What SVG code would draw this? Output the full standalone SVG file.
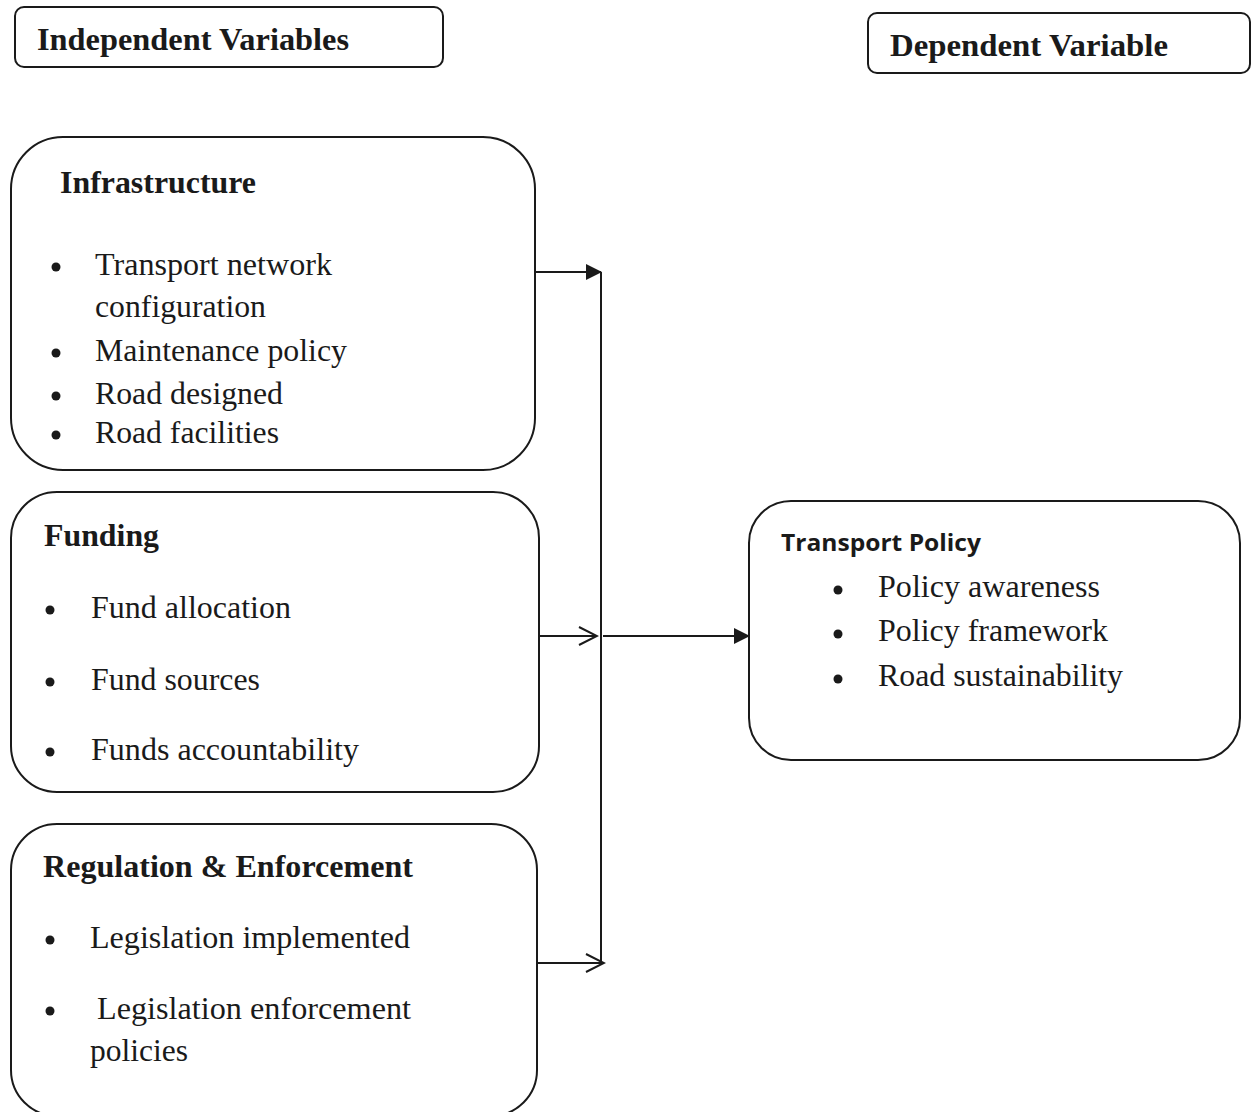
<svg xmlns="http://www.w3.org/2000/svg" width="1257" height="1112" viewBox="0 0 1257 1112">
<style>
.box{fill:#fff;stroke:#1a1a1a;stroke-width:2}
.h{font-family:"Liberation Serif",serif;font-weight:bold;font-size:31px;fill:#1a1a1a}
.t{font-family:"Liberation Serif",serif;font-size:31px;fill:#1a1a1a}
.s{font-family:"Open Sans","Liberation Sans",sans-serif;font-weight:bold;font-size:24px;fill:#1a1a1a}
.ln{stroke:#1a1a1a;stroke-width:2;fill:none}
.dot{fill:#1a1a1a}
</style>
<defs>
<marker id="fill" markerWidth="16" markerHeight="16" refX="15" refY="8" orient="auto" markerUnits="userSpaceOnUse"><path d="M0,0 L16,8 L0,16 Z" fill="#1a1a1a"/></marker>
<marker id="open" markerWidth="22" markerHeight="22" refX="20" refY="11" orient="auto" markerUnits="userSpaceOnUse"><path d="M2,2 L20,11 L2,20" fill="none" stroke="#1a1a1a" stroke-width="2"/></marker>
</defs>
<g id="iv"><rect class="box" x="15" y="7" width="428" height="60" rx="9"/><text class="h" x="37" y="50" textLength="312" lengthAdjust="spacingAndGlyphs">Independent Variables</text></g>
<g id="dv"><rect class="box" x="868" y="13" width="382" height="60" rx="9"/><text class="h" x="890" y="56" textLength="278" lengthAdjust="spacingAndGlyphs">Dependent Variable</text></g>
<g id="infra"><rect class="box" x="11" y="137" width="524" height="333" rx="52"/>
<text class="h" x="60" y="193" textLength="196" lengthAdjust="spacingAndGlyphs">Infrastructure</text>
<circle class="dot" cx="56" cy="267" r="4.5"/><text class="t" x="95" y="275" textLength="237" lengthAdjust="spacingAndGlyphs">Transport network</text>
<text class="t" x="95" y="317" textLength="171" lengthAdjust="spacingAndGlyphs">configuration</text>
<circle class="dot" cx="56" cy="353" r="4.5"/><text class="t" x="95" y="361" textLength="252" lengthAdjust="spacingAndGlyphs">Maintenance policy</text>
<circle class="dot" cx="56" cy="396" r="4.5"/><text class="t" x="95" y="404" textLength="188" lengthAdjust="spacingAndGlyphs">Road designed</text>
<circle class="dot" cx="56" cy="435" r="4.5"/><text class="t" x="95" y="443" textLength="184" lengthAdjust="spacingAndGlyphs">Road facilities</text>
</g>
<g id="funding"><rect class="box" x="11" y="492" width="528" height="300" rx="46"/>
<text class="h" x="44" y="546" textLength="115" lengthAdjust="spacingAndGlyphs">Funding</text>
<circle class="dot" cx="50" cy="610" r="4.5"/><text class="t" x="91" y="618" textLength="200" lengthAdjust="spacingAndGlyphs">Fund allocation</text>
<circle class="dot" cx="50" cy="682" r="4.5"/><text class="t" x="91" y="690" textLength="169" lengthAdjust="spacingAndGlyphs">Fund sources</text>
<circle class="dot" cx="50" cy="752" r="4.5"/><text class="t" x="91" y="760" textLength="268" lengthAdjust="spacingAndGlyphs">Funds accountability</text>
</g>
<g id="reg"><rect class="box" x="11" y="824" width="526" height="292" rx="46"/>
<text class="h" x="43" y="877" textLength="370" lengthAdjust="spacingAndGlyphs">Regulation &amp; Enforcement</text>
<circle class="dot" cx="50" cy="940" r="4.5"/><text class="t" x="90" y="948" textLength="320" lengthAdjust="spacingAndGlyphs">Legislation implemented</text>
<circle class="dot" cx="50" cy="1011" r="4.5"/><text class="t" x="97" y="1019" textLength="314" lengthAdjust="spacingAndGlyphs">Legislation enforcement</text>
<text class="t" x="90" y="1061" textLength="98" lengthAdjust="spacingAndGlyphs">policies</text>
</g>
<g id="tp"><rect class="box" x="749" y="501" width="491" height="259" rx="42"/>
<text class="s" x="781" y="551" textLength="200" lengthAdjust="spacingAndGlyphs">Transport Policy</text>
<circle class="dot" cx="838" cy="590" r="4.5"/><text class="t" x="878" y="597" textLength="222" lengthAdjust="spacingAndGlyphs">Policy awareness</text>
<circle class="dot" cx="838" cy="634" r="4.5"/><text class="t" x="878" y="641" textLength="230" lengthAdjust="spacingAndGlyphs">Policy framework</text>
<circle class="dot" cx="838" cy="679" r="4.5"/><text class="t" x="878" y="686" textLength="245" lengthAdjust="spacingAndGlyphs">Road sustainability</text>
</g>
<g id="connectors">
<line class="ln" x1="601" y1="272" x2="601" y2="962"/>
<line class="ln" x1="535" y1="272" x2="601" y2="272" marker-end="url(#fill)"/>
<line class="ln" x1="539" y1="636" x2="597" y2="636" marker-end="url(#open)"/>
<line class="ln" x1="603" y1="636" x2="749" y2="636" marker-end="url(#fill)"/>
<line class="ln" x1="537" y1="963" x2="604" y2="963" marker-end="url(#open)"/>
</g>
</svg>
